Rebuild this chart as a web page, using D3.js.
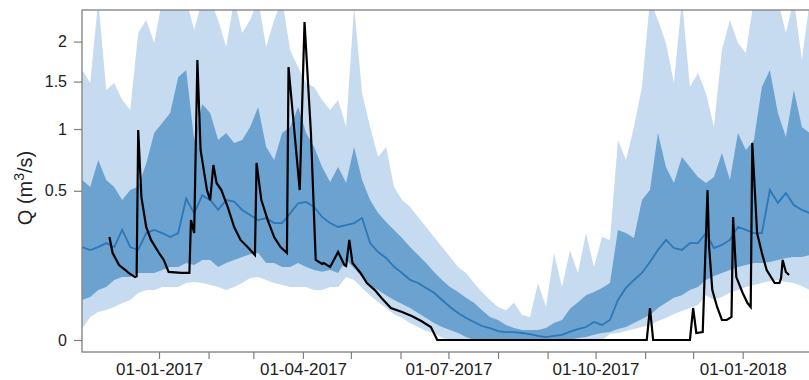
<!DOCTYPE html>
<html><head><meta charset="utf-8">
<script src="https://cdn.jsdelivr.net/npm/d3@7"></script>
<style>body{margin:0;background:#fff;} svg{display:block;font-family:"Liberation Sans",Arial,sans-serif;}</style>
</head><body><svg id="chart" width="809" height="380"></svg>
<script>
// ---- data ----
const bandStart = "2016-11-14";
const bandStepDays = 5;
const outerHigh = [1.637,1.484,2.6,1.404,1.484,1.294,1.188,2.117,2.30,1.981,2.6,2.6,2.6,2.6,2.159,2.6,2.6,2.30,1.928,2.6,2.117,2.30,2.6,1.928,2.30,2.6,1.889,1.674,1.484,1.438,1.294,1.188,1.294,1.019,2.5,1.370,1.019,0.752,0.837,0.526,0.440,0.397,0.340,0.287,0.238,0.194,0.155,0.120,0.101,0.073,0.052,0.036,0.0245,0.020,0.031,0.014,0.012,0.073,0.0245,0.170,0.063,0.18,0.101,0.257,0.120,0.238,0.2246,0.898,0.728,1.019,1.438,2.6,2.30,1.981,1.484,2.6,1.438,1.601,1.370,1.019,1.889,2.30,1.981,1.850,2.6,2.6,2.6,2.6,2.117,2.6,1.761,2.6];
const innerHigh = [0.575,0.526,0.728,0.575,0.526,0.440,0.505,0.530,0.700,0.962,1.058,1.157,1.550,1.637,0.898,1.250,1.157,0.898,0.962,0.872,0.898,1.019,1.219,0.837,0.728,0.962,1.019,1.219,0.962,0.837,0.672,0.561,0.672,0.554,0.837,0.575,0.440,0.362,0.313,0.272,0.234,0.194,0.162,0.133,0.104,0.081,0.063,0.052,0.040,0.031,0.020,0.012,0.009,0.005,0.0032,0.0022,0.0022,0.0022,0.0032,0.0065,0.009,0.022,0.032,0.045,0.052,0.061,0.073,0.272,0.257,0.234,0.440,0.505,0.962,0.672,0.554,0.752,0.672,0.597,0.554,0.597,0.786,0.575,0.962,0.811,0.898,1.438,1.637,1.157,0.926,1.404,1.019,0.962];
const median = [0.194,0.182,0.194,0.211,0.194,0.272,0.194,0.182,0.257,0.272,0.257,0.238,0.257,0.450,0.360,0.470,0.440,0.380,0.440,0.430,0.380,0.351,0.323,0.334,0.307,0.307,0.360,0.420,0.428,0.397,0.340,0.307,0.287,0.297,0.307,0.334,0.211,0.174,0.151,0.120,0.101,0.081,0.073,0.061,0.050,0.036,0.0245,0.0164,0.0109,0.0073,0.0044,0.0032,0.0018,0.0014,0.0014,0.0011,0.0008,0.0004,0.0002,0.0004,0.0006,0.0016,0.0027,0.0038,0.0073,0.0051,0.009,0.036,0.061,0.081,0.101,0.137,0.182,0.225,0.190,0.182,0.211,0.211,0.257,0.190,0.203,0.225,0.287,0.272,0.257,0.257,0.505,0.422,0.485,0.409,0.380,0.362];
const innerLow = [0.036,0.0415,0.056,0.063,0.081,0.089,0.089,0.101,0.101,0.101,0.110,0.120,0.120,0.133,0.126,0.144,0.144,0.120,0.133,0.144,0.155,0.165,0.170,0.133,0.133,0.120,0.120,0.133,0.120,0.110,0.105,0.110,0.101,0.144,0.116,0.089,0.068,0.056,0.045,0.036,0.029,0.023,0.0164,0.0109,0.0065,0.0038,0.0022,0.0011,0.0002,0,0,0,0,0,0,0,0,0,0,0,0,0,0.0001,0.0002,0.0006,0.0011,0.0014,0.0027,0.0038,0.0065,0.0099,0.014,0.023,0.031,0.040,0.045,0.056,0.063,0.081,0.092,0.101,0.110,0.120,0.126,0.133,0.133,0.137,0.144,0.151,0.155,0.155,0.162];
const outerLow = [0.003,0.0119,0.0176,0.0202,0.0245,0.0307,0.0359,0.0496,0.0562,0.0562,0.0631,0.0631,0.0631,0.073,0.0756,0.073,0.068,0.0631,0.0562,0.0631,0.073,0.0863,0.0891,0.0809,0.073,0.068,0.0631,0.0631,0.0631,0.0562,0.0562,0.063,0.063,0.089,0.081,0.061,0.045,0.032,0.023,0.015,0.0109,0.0065,0.0038,0.0018,0.0011,0.0001,0,0,0,0,0,0,0,0,0,0,0,0,0,0,0,0,0,0,0,0,0.0008,0.0011,0.0018,0.0027,0.0038,0.0051,0.0081,0.0109,0.0152,0.0189,0.023,0.0275,0.045,0.036,0.0415,0.050,0.056,0.063,0.068,0.073,0.078,0.081,0.0756,0.073,0.0655,0.056];

const obsDates = ["2016-12-01","2016-12-03","2016-12-07","2016-12-11","2016-12-13","2016-12-17","2016-12-18","2016-12-19","2016-12-21","2016-12-24","2016-12-27","2017-01-01","2017-01-04","2017-01-07","2017-01-15","2017-01-20","2017-01-21","2017-01-23","2017-01-25","2017-01-27","2017-01-31","2017-02-02","2017-02-04","2017-02-06","2017-02-09","2017-02-13","2017-02-17","2017-02-21","2017-02-26","2017-03-02","2017-03-03","2017-03-06","2017-03-10","2017-03-14","2017-03-18","2017-03-22","2017-03-23","2017-03-30","2017-04-02","2017-04-06","2017-04-09","2017-04-13","2017-04-14","2017-04-18","2017-04-23","2017-04-27","2017-04-28","2017-04-30","2017-05-02","2017-05-04","2017-05-07","2017-05-11","2017-05-16","2017-05-20","2017-05-26","2017-06-02","2017-06-08","2017-06-14","2017-06-20","2017-06-24","2017-11-02","2017-11-04","2017-11-06","2017-11-29","2017-12-01","2017-12-03","2017-12-07","2017-12-10","2017-12-11","2017-12-13","2017-12-16","2017-12-19","2017-12-22","2017-12-25","2017-12-26","2017-12-28","2018-01-01","2018-01-04","2018-01-06","2018-01-07","2018-01-10","2018-01-13","2018-01-16","2018-01-21","2018-01-24","2018-01-25","2018-01-26","2018-01-28","2018-01-30"];
const obsValues = [0.238,0.170,0.126,0.110,0.101,0.089,0.091,0.99,0.459,0.287,0.225,0.170,0.144,0.104,0.101,0.101,0.323,0.257,1.761,0.811,0.505,0.440,0.688,0.554,0.505,0.397,0.287,0.225,0.190,0.162,0.704,0.440,0.323,0.238,0.194,0.170,1.674,0.505,2.271,0.962,0.144,0.130,0.133,0.120,0.174,0.126,0.123,0.225,0.133,0.120,0.101,0.073,0.056,0.040,0.023,0.0176,0.0129,0.0081,0.0038,0,0,0.023,0,0,0.023,0.0011,0.0014,0.505,0.194,0.056,0.0245,0.009,0.009,0.0119,0.340,0.089,0.0496,0.0307,0.0245,0.872,0.257,0.170,0.110,0.073,0.073,0.086,0.144,0.104,0.095];

const yTicks = [0, 0.5, 1, 1.5, 2];
const yTickLabels = ["0", "0.5", "1", "1.5", "2"];
const xTickDates = ["2017-01-01","2017-02-01","2017-03-01","2017-04-01","2017-05-01","2017-06-01","2017-07-01","2017-08-01","2017-09-01","2017-10-01","2017-11-01","2017-12-01","2018-01-01"];
const xLabelDates = ["2017-01-01","2017-04-01","2017-07-01","2017-10-01","2018-01-01"];
const yTitle = "Q (m";
const yTitleSup = "3";
const yTitleEnd = "/s)";

// ---- chart ----
const parse = d3.utcParse("%Y-%m-%d");
const fmt = d3.utcFormat("%d-%m-%Y");
const svg = d3.select("#chart");
const L = 82, T = 10, R = 812, B = 352;

const x = d3.scaleUtc().domain([parse("2017-01-01"), parse("2018-01-01")]).range([159, 742.7]);
const y = d3.scaleSqrt().domain([-0.00323, 2.446]).range([B, T]);

const start = parse(bandStart);
const band = outerHigh.map((v, i) => ({
  date: d3.utcDay.offset(start, i * bandStepDays),
  oh: v, ih: innerHigh[i], md: median[i], il: innerLow[i], ol: outerLow[i]
}));
const obs = obsDates.map((d, i) => ({date: parse(d), v: obsValues[i]}));

svg.append("defs").append("clipPath").attr("id", "clip")
  .append("rect").attr("x", L).attr("y", T).attr("width", R - L).attr("height", B - T);

const g = svg.append("g").attr("clip-path", "url(#clip)");

g.append("path").datum(band)
  .attr("fill", "#c6dbef")
  .attr("d", d3.area().x(d => x(d.date)).y0(d => y(d.ol)).y1(d => y(d.oh)));
g.append("path").datum(band)
  .attr("fill", "#6ba2d0")
  .attr("d", d3.area().x(d => x(d.date)).y0(d => y(d.il)).y1(d => y(d.ih)));
g.append("path").datum(band)
  .attr("fill", "none").attr("stroke", "#2a78b9").attr("stroke-width", 1.8)
  .attr("d", d3.line().x(d => x(d.date)).y(d => y(d.md)));
g.append("path").datum(obs)
  .attr("fill", "none").attr("stroke", "#000").attr("stroke-width", 2.2)
  .attr("stroke-linejoin", "miter")
  .attr("d", d3.line().x(d => x(d.date)).y(d => y(d.v)));

// frame
svg.append("rect").attr("x", L).attr("y", T).attr("width", R - L).attr("height", B - T)
  .attr("fill", "none").attr("stroke", "#7f7f7f").attr("stroke-width", 1.3);

// y axis
const yAxis = svg.append("g").attr("transform", `translate(${L},0)`)
  .call(d3.axisLeft(y).tickValues(yTicks).tickFormat((d, i) => yTickLabels[i]).tickSize(8).tickPadding(7));
yAxis.select(".domain").remove();
yAxis.selectAll(".tick line").attr("stroke", "#7f7f7f").attr("stroke-width", 1.2);
yAxis.selectAll(".tick text").attr("fill", "#222").style("font-size", "16px")
  .style("font-family", "'Liberation Sans',Arial,sans-serif");

// x axis
const labelSet = new Set(xLabelDates);
const xAxis = svg.append("g").attr("transform", `translate(0,${B})`)
  .call(d3.axisBottom(x).tickValues(xTickDates.map(parse))
    .tickFormat(d => labelSet.has(d3.utcFormat("%Y-%m-%d")(d)) ? fmt(d) : "")
    .tickSize(7).tickPadding(4));
xAxis.select(".domain").remove();
xAxis.selectAll(".tick line").attr("stroke", "#7f7f7f").attr("stroke-width", 1.2);
xAxis.selectAll(".tick text").attr("fill", "#222").style("font-size", "17px")
  .style("font-family", "'Liberation Sans',Arial,sans-serif");

// y title
const yt = svg.append("text").attr("transform", "translate(32,188) rotate(-90)")
  .attr("text-anchor", "middle").attr("fill", "#222").style("font-size", "20px");
yt.append("tspan").text(yTitle);
yt.append("tspan").attr("dy", -8).style("font-size", "14px").text(yTitleSup);
yt.append("tspan").attr("dy", 8).text(yTitleEnd);
</script></body></html>
